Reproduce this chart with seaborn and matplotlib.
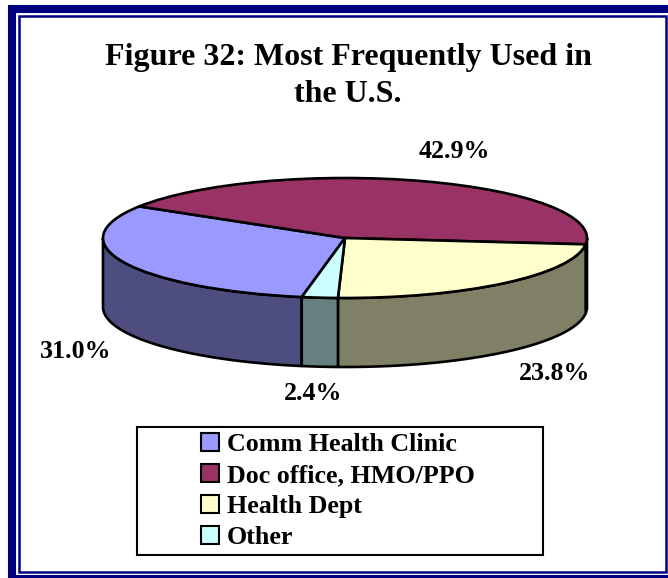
import numpy as np
import matplotlib
matplotlib.use("Agg")
import matplotlib.pyplot as plt
import seaborn as sns
from matplotlib.patches import Patch, Polygon, Rectangle
from matplotlib.colors import to_rgb

# chart data
categories = ["Comm Health Clinic", "Doc office, HMO/PPO", "Health Dept", "Other"]
shares = [31.0, 42.9, 23.8, 2.4]
top_colors = ["#9999FF", "#993366", "#FFFFCC", "#CCFFFF"]
title = "Figure 32: Most Frequently Used in\nthe U.S."

sns.set_theme(style="white")
plt.rcParams["font.family"] = ["Liberation Serif", "DejaVu Serif"]
plt.rcParams["font.weight"] = "bold"
plt.rcParams["text.color"] = "black"

W, H = 668, 578
fig = plt.figure(figsize=(W / 100, H / 100), dpi=100)
fig.patch.set_facecolor("white")

def fx(x):  # pixel -> figure fraction
    return x / W

def fy(y):
    return 1 - y / H

# pie geometry in pixels (center, radii, thickness)
cx, cy, rx, ry, depth = 345, 238, 242, 60, 69
d = depth / ry

ax = fig.add_axes([0, 0, 1, 1])
wedges, _ = ax.pie(shares, colors=top_colors, startangle=-100.3, counterclock=False,
                   wedgeprops=dict(edgecolor="black", linewidth=1.9, joinstyle="round"))
ax.set_aspect("auto")
ax.set_xlim(-cx / rx, (W - cx) / rx)
ax.set_ylim((cy - H) / ry, cy / ry)
ax.axis("off")

# front walls of the 3d pie
for w, c in zip(wedges, top_colors):
    side = np.array(to_rgb(c)) * 0.5
    t1 = w.theta1 % 360
    t2 = t1 + (w.theta2 - w.theta1)
    for lo, hi in [(180, 360), (540, 720)]:
        a, b = max(t1, lo), min(t2, hi)
        if b <= a:
            continue
        t = np.radians(np.linspace(a, b, 120))
        top = np.c_[np.cos(t), np.sin(t)]
        bot = np.c_[np.cos(t[::-1]), np.sin(t[::-1]) - d]
        ax.add_patch(Polygon(np.vstack([top, bot]), closed=True, facecolor=side,
                             edgecolor="black", linewidth=1.9, joinstyle="round", zorder=0.5))

# percentage labels
label_px = [(76, 352), (454, 152), (555, 373), (313, 393)]
for v, (x, y) in zip(shares, label_px):
    fig.text(fx(x), fy(y), f"{v:.1f}%", ha="center", va="center", fontsize=18.7,
             fontweight="bold", color="black")

# title
fig.text(fx(348), fy(76), title, ha="center", va="center", fontsize=23,
         fontweight="bold", linespacing=1.35, color="black")

# legend
handles = [Patch(facecolor=c, edgecolor="black", linewidth=1.5) for c in top_colors]
leg = fig.legend(handles, categories, loc="upper left", bbox_to_anchor=(fx(201), fy(433)),
                 frameon=False, prop=dict(family="Liberation Serif", weight="bold", size=18.7),
                 handlelength=0.7, handleheight=0.7, handletextpad=0.3, labelspacing=0.3,
                 borderpad=0, borderaxespad=0)
for t in leg.get_texts():
    t.set_color("black")
fig.add_artist(Rectangle((fx(137), fy(555)), fx(543 - 137), (555 - 427) / H,
                         transform=fig.transFigure, fill=False, edgecolor="black", linewidth=1.5))

# double navy border
navy = "#000080"
fig.add_artist(Rectangle((fx(12), fy(579)), fx(660), 570 / H, transform=fig.transFigure,
                         fill=False, edgecolor=navy, linewidth=5.8))
fig.add_artist(Rectangle((fx(19), fy(571.5)), fx(646.5), 555.5 / H, transform=fig.transFigure,
                         fill=False, edgecolor=navy, linewidth=1.8))

fig.savefig("out.png", dpi=100)
